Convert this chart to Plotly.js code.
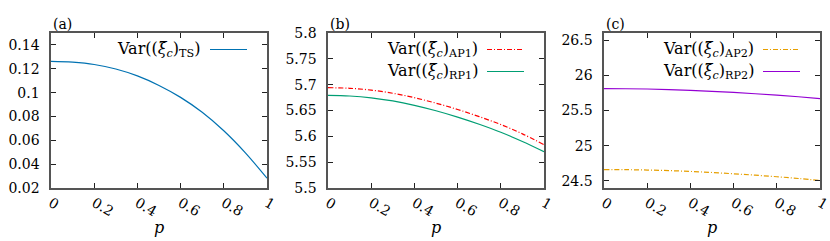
<!DOCTYPE html>
<html>
<head>
<meta charset="utf-8">
<script src="https://cdn.plot.ly/plotly-3.0.1.min.js"></script>
<style>html,body{margin:0;padding:0;background:#fff;overflow:hidden;width:830px;height:241px;}#chart{width:850px;height:241px;}</style>
</head>
<body>
<div id="chart"></div>
<script>
// ---- data ----
const p = [0, 0.1, 0.2, 0.3, 0.4, 0.5, 0.6, 0.7, 0.8, 0.9, 1.0];
const varTS  = [0.1262, 0.1255, 0.1236, 0.1198, 0.1140, 0.1060, 0.0960, 0.0835, 0.0680, 0.0495, 0.0282];
const varAP1 = [5.6942, 5.6930, 5.6895, 5.6834, 5.6748, 5.6642, 5.6520, 5.6381, 5.6228, 5.6048, 5.5838];
const varRP1 = [5.6793, 5.6781, 5.6746, 5.6685, 5.6600, 5.6495, 5.6372, 5.6233, 5.6078, 5.5900, 5.5702];
const varAP2 = [24.662, 24.660, 24.655, 24.647, 24.635, 24.620, 24.602, 24.582, 24.560, 24.535, 24.507];
const varRP2 = [25.811, 25.809, 25.805, 25.797, 25.786, 25.772, 25.756, 25.738, 25.718, 25.695, 25.669];

const xTickVals = [0, 0.2, 0.4, 0.6, 0.8, 1];
const xTickText = ['0', '0.2', '0.4', '0.6', '0.8', '1'];
const yTickValsA = [0.02, 0.04, 0.06, 0.08, 0.1, 0.12, 0.14];
const yTickTextA = ['0.02', '0.04', '0.06', '0.08', '0.1', '0.12', '0.14'];
const yTickValsB = [5.5, 5.55, 5.6, 5.65, 5.7, 5.75, 5.8];
const yTickTextB = ['5.5', '5.55', '5.6', '5.65', '5.7', '5.75', '5.8'];
const yTickValsC = [24.5, 25, 25.5, 26, 26.5];
const yTickTextC = ['24.5', '25', '25.5', '26', '26.5'];

const panelLabels = ['(a)', '(b)', '(c)'];
const nameTS  = 'Var((<i>ξ̃</i><sub><i>c</i></sub>)<sub>TS</sub>)';
const nameAP1 = 'Var((<i>ξ̃</i><sub><i>c</i></sub>)<sub>AP1</sub>)';
const nameRP1 = 'Var((<i>ξ̃</i><sub><i>c</i></sub>)<sub>RP1</sub>)';
const nameAP2 = 'Var((<i>ξ̃</i><sub><i>c</i></sub>)<sub>AP2</sub>)';
const nameRP2 = 'Var((<i>ξ̃</i><sub><i>c</i></sub>)<sub>RP2</sub>)';

// ---- styles ----
const FONT = 'DejaVu Serif';
const W = 850, H = 241;   // paper a little wider than the 830px window so the last rotated label is not culled
const col = {TS:'#0072b2', AP1:'#ff0000', RP1:'#009e73', AP2:'#e69f00', RP2:'#9400d3'};
const dashAP1 = '5px,2px,1px,2px';
const dashAP2 = '5px,2px,1px,2px';

const traces = [
  {x:p, y:varTS,  xaxis:'x',  yaxis:'y',  mode:'lines', line:{color:col.TS,  width:1.2, shape:'spline'}, name:nameTS},
  {x:p, y:varAP1, xaxis:'x2', yaxis:'y2', mode:'lines', line:{color:col.AP1, width:1.2, shape:'spline', dash:dashAP1}, name:nameAP1},
  {x:p, y:varRP1, xaxis:'x2', yaxis:'y2', mode:'lines', line:{color:col.RP1, width:1.2, shape:'spline'}, name:nameRP1},
  {x:p, y:varAP2, xaxis:'x3', yaxis:'y3', mode:'lines', line:{color:col.AP2, width:1.2, shape:'spline', dash:dashAP2}, name:nameAP2},
  {x:p, y:varRP2, xaxis:'x3', yaxis:'y3', mode:'lines', line:{color:col.RP2, width:1.2, shape:'spline'}, name:nameRP2}
];

// plot areas in pixels
const areas = [[51, 267], [328, 544], [604, 820]];
const plotTop = 33, plotBottom = 188;
const yDom = [(H - plotBottom) / H, (H - plotTop) / H];

function xAxis(i) {
  return {
    domain: [areas[i][0] / W, areas[i][1] / W],
    anchor: i === 0 ? 'y' : 'y' + (i + 1),
    range: [0, 1],
    tickvals: xTickVals, ticktext: xTickText,
    tickangle: 30,
    ticks: 'inside', ticklen: 5, tickcolor: '#222', tickwidth: 1,
    mirror: 'ticks', showline: true, linecolor: '#555', linewidth: 1.6,
    showgrid: false, zeroline: false,
    tickfont: {family: FONT, size: 14, color: '#000'},
    ticklabelstandoff: 0,
    ticklabelshift: 0,
    ticklabeloverflow: 'allow'
  };
}
function yAxis(i, rng, tv, tt) {
  return {
    domain: yDom,
    anchor: i === 0 ? 'x' : 'x' + (i + 1),
    range: rng,
    tickvals: tv, ticktext: tt,
    ticks: 'inside', ticklen: 5, tickcolor: '#222', tickwidth: 1,
    mirror: 'ticks', showline: true, linecolor: '#555', linewidth: 1.6,
    showgrid: false, zeroline: false,
    tickfont: {family: FONT, size: 14, color: '#000'},
    ticklabelstandoff: 7,
    ticklabeloverflow: 'allow'
  };
}

const annotations = [];
const shapes = [];
const axSuffix = ['', '2', '3'];
for (let i = 0; i < 3; i++) {
  annotations.push({xref: 'x' + axSuffix[i] + ' domain', yref: 'paper', x: 0, y: (H - 24) / H,
    xanchor: 'left', yanchor: 'middle', text: panelLabels[i], showarrow: false,
    font: {family: FONT, size: 14, color: '#000'}});
  annotations.push({xref: 'x' + axSuffix[i] + ' domain', yref: 'paper', x: 0.5, y: (H - 227) / H,
    xanchor: 'center', yanchor: 'middle', text: '<i>p</i>', showarrow: false,
    font: {family: FONT, size: 16, color: '#000'}});
}
// legends: text right-aligned, sample line at right (gnuplot style)
const legendRows = [
  [{t: nameTS, c: col.TS, d: 'solid'}],
  [{t: nameAP1, c: col.AP1, d: dashAP1}, {t: nameRP1, c: col.RP1, d: 'solid'}],
  [{t: nameAP2, c: col.AP2, d: dashAP2}, {t: nameRP2, c: col.RP2, d: 'solid'}]
];
const rowY = [49.5, 71.5];
for (let i = 0; i < 3; i++) {
  const wpx = areas[i][1] - areas[i][0];
  legendRows[i].forEach((r, k) => {
    const yd = 1 - (rowY[k] - plotTop) / (plotBottom - plotTop);
    annotations.push({xref: 'x' + axSuffix[i] + ' domain', yref: 'y' + axSuffix[i] + ' domain',
      x: 1 - 64 / wpx, y: yd, xanchor: 'right', yanchor: 'middle', text: r.t, showarrow: false,
      font: {family: FONT, size: 16, color: '#000'}});
    shapes.push({type: 'line', xref: 'x' + axSuffix[i] + ' domain', yref: 'y' + axSuffix[i] + ' domain',
      x0: 1 - 57 / wpx, x1: 1 - 20 / wpx, y0: yd, y1: yd,
      line: {color: r.c, width: 1.2, dash: r.d}});
  });
}

const layout = {
  width: W, height: H,
  margin: {l: 0, r: 0, t: 0, b: 0},
  paper_bgcolor: '#fff', plot_bgcolor: '#fff',
  font: {family: FONT},
  showlegend: false,
  xaxis: xAxis(0), xaxis2: xAxis(1), xaxis3: xAxis(2),
  yaxis: yAxis(0, [0.02, 0.15], yTickValsA, yTickTextA),
  yaxis2: yAxis(1, [5.5, 5.8], yTickValsB, yTickTextB),
  yaxis3: yAxis(2, [24.4, 26.6], yTickValsC, yTickTextC),
  annotations: annotations,
  shapes: shapes
};

Plotly.newPlot('chart', traces, layout, {staticPlot: true, displayModeBar: false});
</script>
</body>
</html>
